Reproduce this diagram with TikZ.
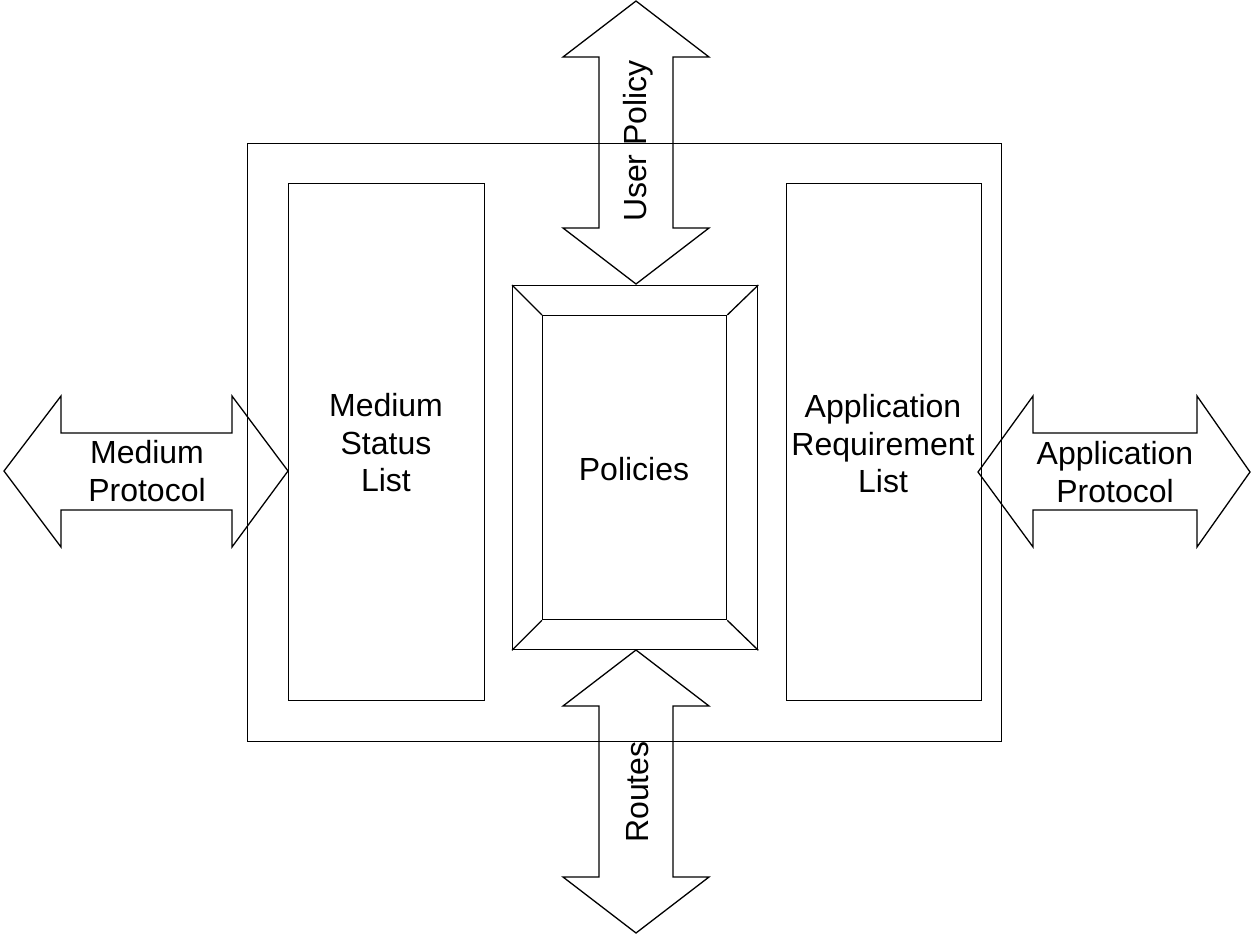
\documentclass[tikz,border=0pt]{standalone}
\usepackage{fontspec}
\setmainfont{Liberation Sans}
\begin{document}
\begin{tikzpicture}[x=1pt,y=-1pt,
  line/.style={draw=black,line width=1.3pt,line join=miter},
  box/.style={line,rectangle,inner sep=0pt,anchor=north west},
  lbl/.style={align=center,font=\fontsize{32}{37.5}\selectfont,inner sep=0pt}]
\useasboundingbox (0,0) rectangle (1251,934);

% frame and side lists
\node[box,minimum width=754pt,minimum height=598pt] (frame) at (247,143) {};
\node[box,minimum width=196pt,minimum height=517pt] (status) at (288,183) {};
\node[box,minimum width=195pt,minimum height=517pt] (req) at (786,183) {};
\node[lbl] (statustxt) at (386,443) {Medium\\Status\\List};
\node[lbl] (reqtxt) at (883,444) {Application\\Requirement\\List};

% bevelled policies box
\node[box,minimum width=245pt,minimum height=364pt] (pol) at (512,285) {};
\node[box,minimum width=184pt,minimum height=304pt] (polin) at (542,315) {};
\draw[line] (pol.north west) -- (polin.north west);
\draw[line] (pol.north east) -- (polin.north east);
\draw[line] (pol.south west) -- (polin.south west);
\draw[line] (pol.south east) -- (polin.south east);
\node[lbl] (poltxt) at (634,469) {Policies};

% double-headed block arrows
\draw[line] (4,471) -- (61,396) -- (61,433) -- (232,433) -- (232,396) -- (288,471)
  -- (232,547) -- (232,510) -- (61,510) -- (61,547) -- cycle;
\node[lbl] (medtxt) at (147,471) {Medium\\Protocol};

\draw[line] (978,472) -- (1033,396) -- (1033,433) -- (1197,433) -- (1197,396) -- (1250,472)
  -- (1197,547) -- (1197,510) -- (1033,510) -- (1033,547) -- cycle;
\node[lbl] (apptxt) at (1115,472) {Application\\Protocol};

\draw[line] (636,1) -- (709,57) -- (673,57) -- (673,228) -- (709,228) -- (636,284)
  -- (563,228) -- (599,228) -- (599,57) -- (563,57) -- cycle;
\node[lbl,rotate=90] (usertxt) at (638,141) {User Policy};

\draw[line] (636,650) -- (709,706) -- (673,706) -- (673,877) -- (709,877) -- (636,933)
  -- (563,877) -- (599,877) -- (599,706) -- (563,706) -- cycle;
\node[lbl,rotate=90] (routetxt) at (638,792) {Routes};
\end{tikzpicture}
\end{document}
